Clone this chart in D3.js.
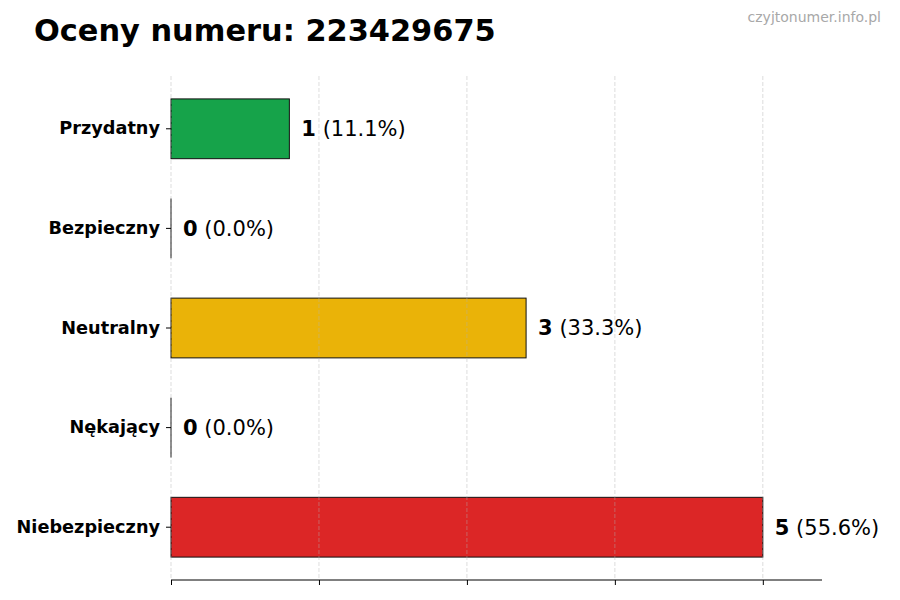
<!DOCTYPE html>
<html>
<head>
<meta charset="utf-8">
<script src="https://cdn.jsdelivr.net/npm/d3@7"></script>
<style>
  body { margin: 0; background: #fff; }
  text { font-family: "DejaVu Sans", sans-serif; }
</style>
</head>
<body>
<div id="chart"></div>
<script>
// Data
const categories = ["Przydatny", "Bezpieczny", "Neutralny", "Nękający", "Niebezpieczny"]
const counts = [1, 0, 3, 0, 5]
const percents = ["11.1%", "0.0%", "33.3%", "0.0%", "55.6%"]
const barColors = ["#16a34a", "#16a34a", "#eab308", "#dc2626", "#dc2626"]
const gridTicks = [0, 1.25, 2.5, 3.75, 5]

const dimensions = {
    width: 900,
    height: 600,
    margin: { top: 76, right: 78, bottom: 20, left: 171 },
}
dimensions.boundedWidth = dimensions.width - dimensions.margin.left - dimensions.margin.right
dimensions.boundedHeight = dimensions.height - dimensions.margin.top - dimensions.margin.bottom

const svg = d3.select("#chart").append("svg")
    .attr("width", dimensions.width)
    .attr("height", dimensions.height)

const bounds = svg.append("g")
    .attr("transform", `translate(${dimensions.margin.left},${dimensions.margin.top})`)

// Scales
const xScale = d3.scaleLinear()
    .domain([0, 5.5])
    .range([0, dimensions.boundedWidth])

const yScale = d3.scaleBand()
    .domain(categories)
    .range([0, dimensions.boundedHeight])
    .paddingInner(0.4)
    .paddingOuter(0.23)

// Bars
bounds.selectAll(".bar")
    .data(categories)
    .enter().append("rect")
    .attr("class", "bar")
    .attr("x", xScale(0))
    .attr("y", d => yScale(d))
    .attr("width", (d, i) => xScale(counts[i]) - xScale(0))
    .attr("height", yScale.bandwidth())
    .attr("fill", (d, i) => barColors[i])
    .attr("stroke", "#111")
    .attr("stroke-width", 1)

// zero-width bars still show their edge
bounds.selectAll(".zero-edge")
    .data(categories.filter((d, i) => counts[i] === 0))
    .enter().append("line")
    .attr("class", "zero-edge")
    .attr("x1", xScale(0))
    .attr("x2", xScale(0))
    .attr("y1", d => yScale(d))
    .attr("y2", d => yScale(d) + yScale.bandwidth())
    .attr("stroke", "#111")
    .attr("stroke-width", 1)

// Grid on top, faint
bounds.append("g")
    .selectAll("line")
    .data(gridTicks)
    .enter().append("line")
    .attr("x1", d => xScale(d))
    .attr("x2", d => xScale(d))
    .attr("y1", 0)
    .attr("y2", dimensions.boundedHeight)
    .attr("stroke", "#b0b0b0")
    .attr("stroke-opacity", 0.55)
    .attr("stroke-dasharray", "4,2")
    .attr("stroke-width", 0.8)

// X axis (no labels)
const xAxis = d3.axisBottom(xScale)
    .tickValues(gridTicks)
    .tickSize(5)
    .tickFormat("")
const xAxisGroup = bounds.append("g")
    .attr("transform", `translate(0,${dimensions.boundedHeight})`)
    .call(xAxis)
xAxisGroup.select(".domain").attr("stroke", "#000").attr("d", `M0,0H${dimensions.boundedWidth}`)
xAxisGroup.selectAll(".tick line").attr("stroke", "#000")

// Y axis
const yAxis = d3.axisLeft(yScale).tickSize(5).tickPadding(6)
const yAxisGroup = bounds.append("g").call(yAxis)
yAxisGroup.select(".domain").remove()
yAxisGroup.selectAll(".tick line").attr("stroke", "#000")
yAxisGroup.selectAll(".tick text")
    .attr("font-family", "DejaVu Sans, sans-serif")
    .attr("font-size", 17.7)
    .attr("font-weight", "bold")
    .attr("fill", "#000")

// Value labels
const labels = bounds.selectAll(".value-label")
    .data(categories)
    .enter().append("text")
    .attr("class", "value-label")
    .attr("x", (d, i) => xScale(counts[i]) + 12)
    .attr("y", d => yScale(d) + yScale.bandwidth() / 2)
    .attr("dy", "0.35em")
    .attr("font-size", 21)
    .attr("fill", "#000")
labels.append("tspan")
    .attr("font-weight", "bold")
    .text((d, i) => counts[i])
labels.append("tspan")
    .text((d, i) => ` (${percents[i]})`)

// Title
svg.append("text")
    .attr("x", 34)
    .attr("y", 41)
    .attr("font-size", 30.4)
    .attr("font-weight", "bold")
    .attr("fill", "#000")
    .text("Oceny numeru: 223429675")

// Watermark
svg.append("text")
    .attr("x", 881)
    .attr("y", 22)
    .attr("text-anchor", "end")
    .attr("font-size", 14)
    .attr("fill", "#a8a8a8")
    .text("czyjtonumer.info.pl")
</script>
</body>
</html>
